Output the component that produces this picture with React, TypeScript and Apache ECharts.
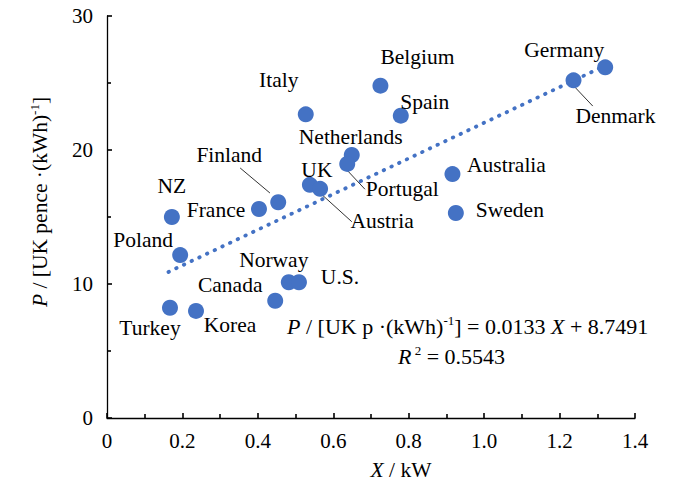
import React, { useEffect, useRef } from "react";
import * as echarts from "echarts";

const countries = ["Italy", "Finland", "France", "NZ", "UK", "Austria", "Belgium", "Spain", "Netherlands", "Portugal", "Germany", "Denmark", "Australia", "Sweden", "Poland", "Turkey", "Korea", "Canada", "Norway", "U.S."];
const capacityKW = [0.527, 0.454, 0.403, 0.172, 0.538, 0.565, 0.725, 0.779, 0.649, 0.637, 1.321, 1.237, 0.916, 0.925, 0.194, 0.167, 0.236, 0.446, 0.482, 0.509];
const pricePence = [22.66, 16.1, 15.6, 15.0, 17.4, 17.1, 24.8, 22.56, 19.63, 18.96, 26.17, 25.2, 18.2, 15.3, 12.16, 8.23, 7.99, 8.75, 10.13, 10.13];
const trendLine = [[0.163, 10.9], [1.321, 26.3]];
const leaderLines: Record<string, number[][]> = {
  Finland: [[0.353, 18.66], [0.432, 16.79]],
  Austria: [[0.565, 16.79], [0.649, 14.65]],
  Portugal: [[0.636, 18.51], [0.684, 17.07]],
  Denmark: [[1.241, 24.68], [1.288, 23.28]],
};
const xTicks = [0, 0.2, 0.4, 0.6, 0.8, 1.0, 1.2, 1.4];
const yTicks = [0, 10, 20, 30];

// label offsets (pixels) relative to the marker centre
const labelOffsets: Record<string, number[]> = {
  Italy: [-27, -34], Finland: [-49, -47], France: [-43, 1], NZ: [0, -31], UK: [7, -15],
  Austria: [62, 32], Belgium: [37, -29], Spain: [24, -14], Netherlands: [-1, -18],
  Portugal: [55, 25], Germany: [-41, -17], Denmark: [42, 36], Australia: [54, -9],
  Sweden: [54, -3], Poland: [-37, -15], Turkey: [-20, 20], Korea: [34, 14],
  Canada: [-45, -16], Norway: [-15, -22], "U.S.": [41, -5],
};

const FONT = "Liberation Serif";
const BLUE = "#4472C4";

export default function App() {
  const ref = useRef<HTMLDivElement>(null);
  useEffect(() => {
    if (!ref.current) return;
    const chart = echarts.init(ref.current, null, { renderer: "svg" });
    const points = countries.map((name, i) => ({
      name,
      value: [capacityKW[i], pricePence[i]],
      label: { offset: labelOffsets[name] },
    }));
    const leaderSeries = Object.keys(leaderLines).map((k) => ({
      type: "line",
      data: leaderLines[k],
      symbol: "none",
      silent: true,
      lineStyle: { color: "#333", width: 1 },
      z: 1,
    }));
    const tickFmt = (v: number) => {
      const t = xTicks.find((x) => Math.abs(x - v) < 1e-6);
      if (t === undefined) return "";
      return t === 0 ? "0" : t.toFixed(1);
    };
    const rich = {
      n: { fontFamily: FONT, fontSize: 21.5, color: "#000", lineHeight: 24 },
      i: { fontFamily: FONT, fontSize: 21.5, color: "#000", fontStyle: "italic", lineHeight: 24 },
      s: { fontFamily: FONT, fontSize: 13, color: "#000", verticalAlign: "top", lineHeight: 24 },
    };
    const richEq = {
      n: { fontFamily: FONT, fontSize: 22, color: "#000", lineHeight: 24 },
      i: { fontFamily: FONT, fontSize: 22, color: "#000", fontStyle: "italic", lineHeight: 24 },
      s: { fontFamily: FONT, fontSize: 13, color: "#000", verticalAlign: "top", lineHeight: 24 },
    };
    const option: any = {
      animation: false,
      backgroundColor: "#fff",
      textStyle: { fontFamily: FONT },
      grid: { left: 107, right: 41, top: 16, bottom: 70 },
      xAxis: {
        type: "value",
        min: 0,
        max: 1.4,
        interval: 0.2,
        axisLine: { show: true, lineStyle: { color: "#000", width: 1.3 } },
        axisTick: { show: true, inside: true, length: 5, lineStyle: { color: "#000", width: 1.6 } },
        minorTick: { show: true, splitNumber: 2, length: 4, lineStyle: { color: "#000", width: 1.6 } },
        splitLine: { show: false },
        axisLabel: { formatter: tickFmt, fontSize: 21, fontFamily: FONT, color: "#000", margin: 12 },
      },
      yAxis: {
        type: "value",
        min: 0,
        max: 30,
        interval: 10,
        axisLine: { show: true, lineStyle: { color: "#000", width: 1.3 } },
        axisTick: { show: true, inside: true, length: 5, lineStyle: { color: "#000", width: 1.6 } },
        minorTick: { show: true, splitNumber: 2, length: 4, lineStyle: { color: "#000", width: 1.6 } },
        splitLine: { show: false },
        axisLabel: {
          formatter: (v: number) => (yTicks.includes(v) ? String(v) : ""),
          fontSize: 21, fontFamily: FONT, color: "#000", margin: 14,
        },
      },
      series: [
        ...leaderSeries,
        {
          type: "line",
          data: trendLine,
          symbol: "none",
          silent: true,
          lineStyle: { color: BLUE, width: 3.8, type: [0.5, 8], cap: "round" },
          z: 2,
        },
        {
          type: "scatter",
          data: points,
          symbolSize: 16,
          itemStyle: { color: BLUE, opacity: 1 },
          z: 3,
          label: {
            show: true,
            position: "inside",
            formatter: "{b}",
            fontFamily: FONT,
            fontSize: 21.5,
            color: "#000",
          },
        },
      ],
      graphic: [
        {
          type: "text",
          x: 40,
          y: 202,
          rotation: Math.PI / 2,
          style: {
            text: "{i|P}{n| / [UK pence ·(kWh)}{s|-1}{n|]}",
            rich,
            align: "center",
            verticalAlign: "middle",
          },
        },
        {
          type: "text",
          x: 401,
          y: 470,
          style: {
            text: "{i|X}{n| / kW}",
            rich,
            align: "center",
            verticalAlign: "middle",
          },
        },
        {
          type: "text",
          x: 287,
          y: 326,
          style: {
            text: "{i|P}{n| / [UK p ·(kWh)}{s|-1}{n|] = 0.0133 }{i|X}{n| + 8.7491}",
            rich: richEq,
            align: "left",
            verticalAlign: "middle",
          },
        },
        {
          type: "text",
          x: 398,
          y: 356,
          style: {
            text: "{i|R}{s| 2}{n| = 0.5543}",
            rich: richEq,
            align: "left",
            verticalAlign: "middle",
          },
        },
      ],
    };
    chart.setOption(option);
    return () => chart.dispose();
  }, []);
  return (
    <div
      ref={ref}
      style={{ position: "fixed", left: 0, top: 0, width: 676, height: 488, background: "#fff" }}
    />
  );
}
